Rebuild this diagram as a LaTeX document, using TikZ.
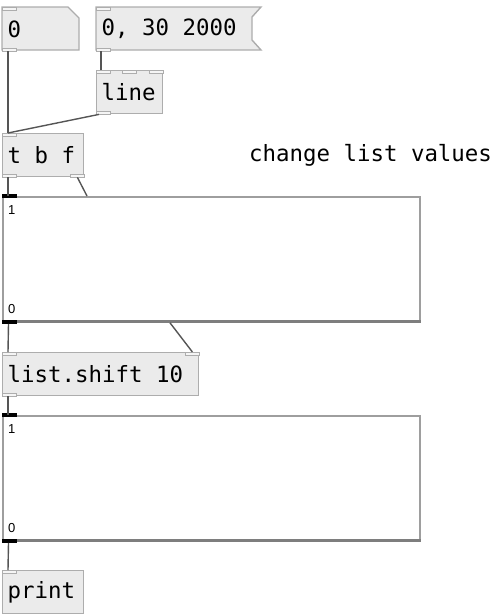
\documentclass[tikz,border=0pt]{standalone}
\usepackage{fontspec}
\setmonofont{DejaVu Sans Mono}
\newfontfamily\labelfont{Liberation Sans}
\usetikzlibrary{calc}
\definecolor{boxfill}{HTML}{EBEBEB}
\definecolor{boxline}{HTML}{ADADAD}
\definecolor{wirecol}{HTML}{555555}
\definecolor{arrline}{HTML}{9E9E9E}
\newcommand{\pdfont}{\fontsize{22.4}{24}\selectfont\ttfamily}

\begin{document}
\begin{tikzpicture}[x=1pt,y=-1pt,
    obj/.style={draw=boxline, fill=boxfill, line width=1.4pt, rectangle, anchor=north west, minimum height=43, inner xsep=5pt, inner ysep=0pt, text width=#1pt, align=left, font=\pdfont, execute at begin node={\spaceskip=0pt\relax\xspaceskip=0pt\relax}},
    boxpath/.style={draw=boxline, fill=boxfill, line width=1.4pt},
    let/.style={draw=boxline, fill=boxfill!50!white, line width=0.8pt, rectangle, minimum width=14pt, minimum height=3pt, inner sep=0pt, outer sep=0pt},
    arr/.style={draw=arrline, fill=white, line width=1.8pt, rectangle, anchor=north west, minimum width=417pt, minimum height=124pt, inner sep=0pt},
    arrlet/.style={fill=black, rectangle, minimum width=15pt, minimum height=4pt, inner sep=0pt, outer sep=0pt},
    lab/.style={font=\labelfont\fontsize{13}{14}\selectfont, inner sep=0pt},
    wire/.style={draw=wirecol, line width=1.4pt}]
    \useasboundingbox (0,0) rectangle (496,616);

    % Top row
    \draw[boxpath] (2,7) -- (68,7) -- (79,18) -- (79,50) -- (2,50) -- cycle;
    \node[obj=67, fill=none, draw=none] (num) at (2,7) {0};
    \draw[boxpath] (96,7) -- (261,7) -- (252,17) -- (252,40) -- (261,50) -- (96,50) -- cycle;
    \node[obj=146, fill=none, draw=none] (msg) at (96,7) {0, 30 2000};
    \node[let, anchor=north west] (num-in) at (num.north west) {};
    \node[let, anchor=south west] (num-out) at (num.south west) {};
    \node[let, anchor=north west] (msg-in) at (msg.north west) {};
    \node[let, anchor=south west] (msg-out) at (msg.south west) {};

    \node[obj=56] (line) at (96,70) {line};
    \node[let, anchor=north west] (line-in1) at (line.north west) {};
    \node[let, anchor=north] (line-in2) at (line.north) {};
    \node[let, anchor=north east] (line-in3) at (line.north east) {};
    \node[let, anchor=south west] (line-out) at (line.south west) {};

    \node[obj=71] (tbf) at (2,133) {t b f};
    \node[let, anchor=north west] (tbf-in) at (tbf.north west) {};
    \node[let, anchor=south west] (tbf-out1) at (tbf.south west) {};
    \node[let, anchor=south east] (tbf-out2) at (tbf.south east) {};

    \node[anchor=west, inner sep=0pt, font=\pdfont] (note) at (249,155) {change list values};

    % First array
    \node[arr] (arr1) at (2,196) {};
    \draw[arrline!80!black, line width=3pt] (arr1.south west) -- (arr1.south east);
    \node[arrlet, anchor=west] (arr1-in) at (arr1.north west) {};
    \node[arrlet, anchor=west] (arr1-out) at (arr1.south west) {};
    \coordinate (arr1-in2) at ($(arr1.north west)+(85,0)$);
    \coordinate (arr1-out2) at ($(arr1.south west)+(168,1)$);
    \node[lab, anchor=north west] (arr1-max) at ($(arr1.north west)+(6,9)$) {1};
    \node[lab, anchor=south west] (arr1-min) at ($(arr1.south west)+(6,-8)$) {0};

    \node[obj=186] (shift) at (2,352) {list.shift 10};
    \node[let, anchor=north west] (shift-in1) at (shift.north west) {};
    \node[let, anchor=north east] (shift-in2) at (shift.north east) {};
    \node[let, anchor=south west] (shift-out) at (shift.south west) {};

    % Second array
    \node[arr] (arr2) at (2,415) {};
    \draw[arrline!80!black, line width=3pt] (arr2.south west) -- (arr2.south east);
    \node[arrlet, anchor=west] (arr2-in) at (arr2.north west) {};
    \node[arrlet, anchor=west] (arr2-out) at (arr2.south west) {};
    \node[lab, anchor=north west] (arr2-max) at ($(arr2.north west)+(6,9)$) {1};
    \node[lab, anchor=south west] (arr2-min) at ($(arr2.south west)+(6,-8)$) {0};

    \node[obj=71] (print) at (2,570) {print};
    \node[let, anchor=north west] (print-in) at (print.north west) {};

    % Connections
    \draw[wire] ([xshift=-1pt]num-out.south) -- ([xshift=-1pt]tbf-in.north);
    \draw[wire] ([xshift=-2pt]msg-out.south) -- ([xshift=-2pt]line-in1.north);
    \draw[wire] ([xshift=-4pt]line-out.south) -- ([xshift=-1pt]tbf-in.north);
    \draw[wire] ([xshift=-1pt]tbf-out1.south) -- ([xshift=-1pt]arr1-in.west -| tbf-out1.south);
    \draw[wire] (tbf-out2.south) -- (arr1-in2);
    \draw[wire] ([xshift=-1pt]arr1-out.south) -- ([xshift=-1pt]shift-in1.north);
    \draw[wire] (arr1-out2) -- (shift-in2.north);
    \draw[wire] ([xshift=-1pt]shift-out.south) -- ([xshift=-1pt]arr2-in.west -| shift-out.south);
    \draw[wire] ([xshift=-1pt]arr2-out.south) -- ([xshift=-1pt]print-in.north);
\end{tikzpicture}
\end{document}
